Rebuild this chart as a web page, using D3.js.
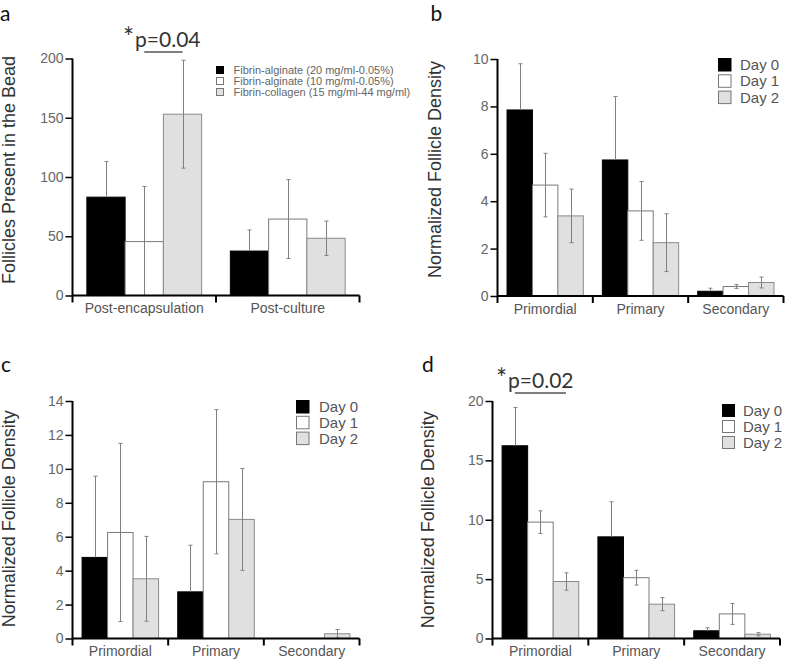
<!DOCTYPE html>
<html><head><meta charset="utf-8">
<script src="https://cdn.jsdelivr.net/npm/d3@7"></script>
<style>body{margin:0;background:#fff}svg{display:block}</style>
</head><body>
<script>
// ---------- DATA ----------
const groupsA = ["Post-encapsulation", "Post-culture"];
const seriesA = ["Fibrin-alginate (20 mg/ml-0.05%)", "Fibrin-alginate (10 mg/ml-0.05%)", "Fibrin-collagen (15 mg/ml-44 mg/ml)"];
const valuesA = [[83, 45.5, 153], [37.5, 64.5, 48.3]];
const errorsA = [[30, 46.5, 45.5], [17.8, 33.3, 14.5]];
const ticksA = [0, 50, 100, 150, 200];

const groupsBCD = ["Primordial", "Primary", "Secondary"];
const seriesDays = ["Day 0", "Day 1", "Day 2"];

const valuesB = [[7.85, 4.68, 3.38], [5.74, 3.59, 2.25], [0.2, 0.4, 0.57]];
const errorsB = [[1.95, 1.34, 1.13], [2.68, 1.24, 1.22], [0.13, 0.08, 0.23]];
const ticksB = [0, 2, 4, 6, 8, 10];

const valuesC = [[4.78, 6.25, 3.52], [2.75, 9.24, 7.02], [0, 0, 0.28]];
const errorsC = [[4.79, 5.25, 2.5], [2.75, 4.25, 3.0], [0, 0, 0.25]];
const ticksC = [0, 2, 4, 6, 8, 10, 12, 14];

const valuesD = [[16.23, 9.8, 4.8], [8.56, 5.12, 2.89], [0.65, 2.07, 0.36]];
const errorsD = [[3.23, 0.95, 0.73], [2.95, 0.62, 0.55], [0.25, 0.88, 0.13]];
const ticksD = [0, 5, 10, 15, 20];

const pStarA = "*", pTextA = "p=0.04", pPairA = [1, 2];
const pStarD = "*", pTextD = "p=0.02", pPairD = [0, 2];

const fills = ["#000000", "#ffffff", "#e0e0e0"];
const strokes = ["#000000", "#7a7a7a", "#8a8a8a"];

// ---------- DRAW ----------
const W = 787, H = 660;
const svg = d3.select("body").append("svg").attr("width", W).attr("height", H);
const SANS = "'Liberation Sans', Arial, Helvetica, sans-serif";
const LETTER = "Lato, 'Open Sans', sans-serif";

function panel(cfg) {
  const g = svg.append("g");
  const y = d3.scaleLinear().domain([0, cfg.ticks[cfg.ticks.length - 1]]).range([cfg.y0, cfg.y1]);
  const x = d3.scaleBand().domain(cfg.groups).range([cfg.x0, cfg.x1]).padding(0);
  const gw = x.bandwidth();
  const xs = d3.scaleBand().domain(d3.range(cfg.series.length)).range([gw * 0.1, gw * 0.9]).padding(0);

  // bars
  cfg.groups.forEach((grp, gi) => {
    cfg.values[gi].forEach((v, si) => {
      if (v <= 0) return;
      const bx = x(grp) + xs(si);
      g.append("rect")
        .attr("x", bx).attr("y", y(v))
        .attr("width", xs.bandwidth()).attr("height", y(0) - y(v))
        .attr("fill", fills[si]).attr("stroke", strokes[si]).attr("stroke-width", 1);
    });
  });
  // error bars
  cfg.groups.forEach((grp, gi) => {
    cfg.values[gi].forEach((v, si) => {
      const e = cfg.errors[gi][si];
      if (!e) return;
      const cx = Math.round(x(grp) + xs(si) + xs.bandwidth() / 2) + 0.5;
      const hi = y(v + e), lo = y(Math.max(0, v - e));
      const col = "#808080";
      g.append("line").attr("x1", cx).attr("x2", cx).attr("y1", hi).attr("y2", y(v))
        .attr("stroke", col).attr("stroke-width", 1);
      g.append("line").attr("x1", cx - 2).attr("x2", cx + 2).attr("y1", hi).attr("y2", hi)
        .attr("stroke", col).attr("stroke-width", 1);
      if (si !== 0) {
        g.append("line").attr("x1", cx).attr("x2", cx).attr("y1", y(v)).attr("y2", lo)
          .attr("stroke", col).attr("stroke-width", 1);
        if (v - e > 0)
          g.append("line").attr("x1", cx - 2).attr("x2", cx + 2).attr("y1", lo).attr("y2", lo)
            .attr("stroke", col).attr("stroke-width", 1);
      }
    });
  });

  // y axis
  const ya = g.append("g").attr("transform", `translate(${cfg.x0},0)`)
    .call(d3.axisLeft(y).tickValues(cfg.ticks).tickSize(7).tickPadding(2).tickFormat(d3.format("d")));
  ya.select(".domain").attr("stroke", "#000").attr("stroke-width", 2).attr("d", `M0,${cfg.y1}V${cfg.y0}`);
  ya.selectAll(".tick line").attr("stroke", "#000").attr("stroke-width", 1.5);
  ya.selectAll(".tick text").attr("font-family", SANS).attr("font-size", 14).attr("fill", "#666");

  // x axis
  const xa = g.append("g").attr("transform", `translate(0,${cfg.y0})`)
    .call(d3.axisBottom(x).tickSize(0).tickPadding(8));
  xa.select(".domain").attr("stroke", "#000").attr("stroke-width", 2).attr("d", `M${cfg.x0},0H${cfg.x1}`);
  xa.selectAll(".tick text").attr("font-family", SANS).attr("font-size", 14).attr("fill", "#555");
  const bounds = cfg.groups.map(gname => x(gname)).concat([cfg.x1]);
  xa.selectAll("line.sep").data(bounds).enter().append("line").attr("class", "sep")
    .attr("x1", d => d).attr("x2", d => d).attr("y1", 0).attr("y2", 7)
    .attr("stroke", "#000").attr("stroke-width", 2);

  // y label
  g.append("text").attr("transform", `translate(${cfg.labelX},${(cfg.y0 + cfg.y1) / 2 + cfg.labelDy}) rotate(-90)`)
    .attr("text-anchor", "middle").attr("font-family", SANS).attr("font-size", 18).attr("fill", "#333")
    .text(cfg.ylabel);

  // panel letter
  g.append("text").attr("x", cfg.letterX).attr("y", cfg.letterY)
    .attr("font-family", LETTER).attr("font-size", 21).attr("fill", "#111").text(cfg.letter);

  // legend
  const lg = g.append("g").attr("transform", `translate(${cfg.legX},${cfg.legY})`);
  cfg.series.forEach((s, i) => {
    lg.append("rect").attr("x", 0).attr("y", i * cfg.legStep)
      .attr("width", cfg.legBox).attr("height", cfg.legBox)
      .attr("fill", fills[i]).attr("stroke", i === 0 ? "#000" : "#777").attr("stroke-width", 1);
    lg.append("text").attr("x", cfg.legBox + cfg.legGap).attr("y", i * cfg.legStep + cfg.legBox / 2)
      .attr("dy", "0.36em").attr("font-family", SANS).attr("font-size", cfg.legFont).attr("fill", cfg.legColor)
      .text(s);
  });

  // significance
  if (cfg.pText) {
    const [a, b] = cfg.pPair;
    const g0 = cfg.groups[0];
    const xa1 = x(g0) + xs(a) + xs.bandwidth() / 2;
    const xb1 = x(g0) + xs(b) + xs.bandwidth() / 2;
    const t = g.append("text").attr("x", cfg.pX).attr("y", cfg.pY)
      .attr("font-family", LETTER).attr("font-size", 21).attr("fill", "#333");
    t.append("tspan").attr("font-size", 26).text(cfg.pStar);
    t.append("tspan").attr("dx", 1).text(cfg.pText);
    g.append("line").attr("x1", xa1).attr("x2", xb1).attr("y1", cfg.pY + 5).attr("y2", cfg.pY + 5)
      .attr("stroke", "#555").attr("stroke-width", 1.5);
  }
}

panel({
  groups: groupsA, series: seriesA, values: valuesA, errors: errorsA, ticks: ticksA,
  x0: 72.5, x1: 359.5, y0: 295.5, y1: 58.5,
  ylabel: "Follicles Present in the Bead", labelX: 15, labelDy: -7,
  letter: "a", letterX: 0, letterY: 21,
  legX: 216.5, legY: 66.5, legBox: 7, legStep: 11, legGap: 10, legFont: 11, legColor: "#666",
  pStar: pStarA, pText: pTextA, pPair: pPairA, pX: 123, pY: 47
});
panel({
  groups: groupsBCD, series: seriesDays, values: valuesB, errors: errorsB, ticks: ticksB,
  x0: 497.5, x1: 783.5, y0: 296, y1: 59,
  ylabel: "Normalized Follicle Density", labelX: 441, labelDy: -8,
  letter: "b", letterX: 430.5, letterY: 21,
  legX: 718.5, legY: 58.5, legBox: 12.5, legStep: 16.3, legGap: 9, legFont: 15, legColor: "#555"
});
panel({
  groups: groupsBCD, series: seriesDays, values: valuesC, errors: errorsC, ticks: ticksC,
  x0: 72.5, x1: 359.5, y0: 638.5, y1: 401,
  ylabel: "Normalized Follicle Density", labelX: 15, labelDy: -1,
  letter: "c", letterX: 1, letterY: 372,
  legX: 296.5, legY: 400.5, legBox: 12.5, legStep: 15.8, legGap: 10, legFont: 15, legColor: "#555"
});
panel({
  groups: groupsBCD, series: seriesDays, values: valuesD, errors: errorsD, ticks: ticksD,
  x0: 492.5, x1: 780, y0: 638.5, y1: 401,
  ylabel: "Normalized Follicle Density", labelX: 434, labelDy: 0,
  letter: "d", letterX: 422, letterY: 372,
  legX: 722.5, legY: 404.5, legBox: 12, legStep: 16, legGap: 8.5, legFont: 15, legColor: "#555",
  pStar: pStarD, pText: pTextD, pPair: pPairD, pX: 496, pY: 388
});
</script>
</body></html>
